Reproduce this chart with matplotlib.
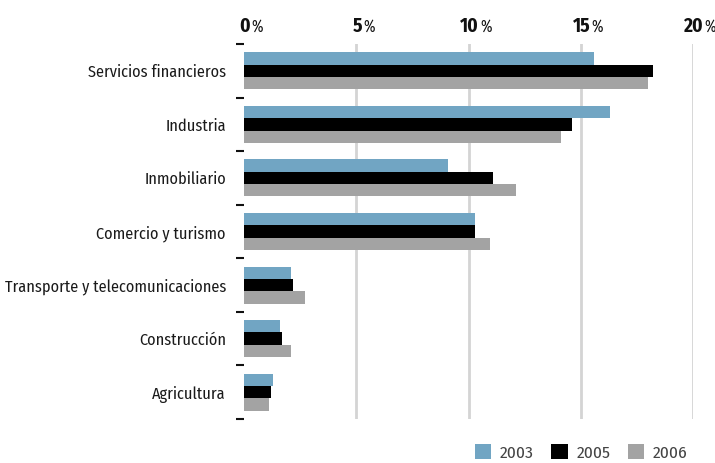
import matplotlib
matplotlib.use("Agg")
import matplotlib.pyplot as plt
from matplotlib.patches import Patch
from matplotlib.transforms import offset_copy, blended_transform_factory
import numpy as np

categories = ["Servicios financieros", "Industria", "Inmobiliario", "Comercio y turismo",
              "Transporte y telecomunicaciones", "Construcción", "Agricultura"]
years = ["2003", "2005", "2006"]
values_2003 = [15.6, 16.3, 9.1, 10.3, 2.1, 1.6, 1.3]
values_2005 = [18.2, 14.6, 11.1, 10.3, 2.2, 1.7, 1.2]
values_2006 = [18.0, 14.1, 12.1, 10.95, 2.7, 2.1, 1.1]
x_ticks = [0, 5, 10, 15, 20]

colors = ["#71a5c3", "#000000", "#a3a3a3"]
label_font = ["Fira Sans Condensed", "DejaVu Sans"]
pct_font = ["Fira Sans Extra Condensed", "DejaVu Sans"]

fig = plt.figure(figsize=(7.15, 4.63), dpi=100)
ax = fig.add_axes([244 / 715, 1 - 419 / 463, (693 - 244) / 715, (419 - 44) / 463])

y = np.arange(len(categories))
h = 0.23
for i, (vals, c, yr) in enumerate(zip([values_2003, values_2005, values_2006], colors, years)):
    ax.barh(y + (i - 1) * h, vals, height=h, color=c, label=yr, zorder=3)

ax.set_xlim(0, 20)
ax.set_ylim(len(categories) - 0.5, -0.5)

# vertical grid lines
for t in x_ticks[1:]:
    ax.axvline(t, color="#d4d4d4", lw=2, zorder=1)

for s in ax.spines.values():
    s.set_visible(False)

# top axis labels: bold number followed by a narrow percent sign
ax.set_xticks(x_ticks)
ax.tick_params(axis="x", length=0, labelbottom=False, labeltop=False)
trans = blended_transform_factory(ax.transData, ax.transAxes)
fig.canvas.draw()
renderer = fig.canvas.get_renderer()
base_y = ax.transAxes.transform((0, 1.0))[1] + 12
for t in x_ticks:
    num = ax.text(t, 1.0, f"{t}", transform=offset_copy(trans, fig, x=1.0, y=12, units="dots"),
                  ha="center", va="baseline", fontsize=14, fontweight="bold",
                  family=label_font, color="#111111")
    bb = num.get_window_extent(renderer)
    fig.text(bb.x1 + 1, base_y, "%", transform=None, ha="left", va="baseline",
             fontsize=12, fontweight="normal", family=pct_font, color="#111111")

ax.set_yticks(y)
ax.set_yticklabels(categories, fontfamily=label_font, fontsize=11.7, color="#1a1a1a")
ax.tick_params(axis="y", which="major", length=0, pad=13)
ax.set_yticks(np.arange(len(categories) + 1) - 0.5, minor=True)
ax.tick_params(axis="y", which="minor", length=6, width=1.5, color="#111111", direction="out")

handles = [Patch(facecolor=c, edgecolor="none") for c in colors]
leg = fig.legend(handles, years, loc="lower right", bbox_to_anchor=(0.975, -0.016), ncol=3,
                 frameon=False, borderpad=0.05, handlelength=0.95, handleheight=0.95,
                 handletextpad=0.5, columnspacing=1.0,
                 prop={"family": label_font, "size": 12.5})
for t in leg.get_texts():
    t.set_color("#444444")

fig.savefig("out.png", dpi=100)
